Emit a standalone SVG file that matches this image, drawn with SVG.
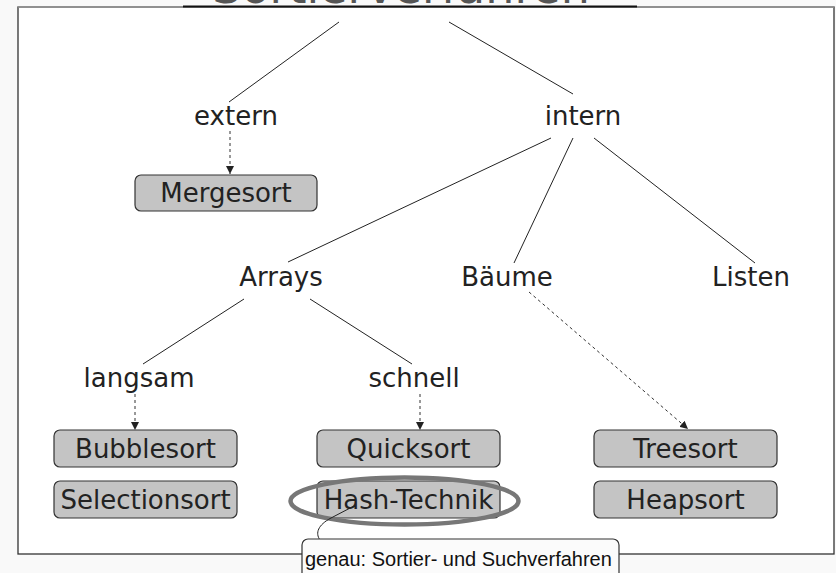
<svg xmlns="http://www.w3.org/2000/svg" width="836" height="573" viewBox="0 0 836 573">
  <defs>
    <style>
      .lbl { font-family: "DejaVu Sans", Verdana, sans-serif; font-size: 26px; fill: #222; text-anchor: middle; }
      .box { fill: #c4c4c4; stroke: #333; stroke-width: 1.2; }
      .edge { stroke: #222; stroke-width: 1; fill: none; }
      .dash { stroke: #333; stroke-width: 1; stroke-dasharray: 3 3; fill: none; marker-end: url(#arr); }
    </style>
    <marker id="arr" viewBox="0 0 8 8" refX="8" refY="4" markerWidth="8" markerHeight="8" markerUnits="userSpaceOnUse" orient="auto">
      <path d="M0,0 L8,4 L0,8 Z" fill="#222"/>
    </marker>
  </defs>

  <rect x="0" y="0" width="836" height="573" fill="#f9f9f9"/>
  <g id="frame">
    <rect x="18" y="7" width="816" height="547" fill="#ffffff" stroke="#333" stroke-width="1.3"/>
    <line x1="18" y1="7" x2="834" y2="7" stroke="#999" stroke-width="1.5"/>
    <line x1="183" y1="6.5" x2="637" y2="6.5" stroke="#111" stroke-width="2.2"/>
  </g>
  <g id="title">
    <text x="401" y="3" font-family="DejaVu Sans, sans-serif" font-size="46" fill="#555" text-anchor="middle">Sortierverfahren</text>
  </g>

  <g id="connectors">
    <line class="edge" x1="339" y1="22" x2="229" y2="102"/>
    <line class="edge" x1="449" y1="22" x2="573" y2="94"/>
    <line class="edge" x1="551" y1="138" x2="288" y2="262"/>
    <line class="edge" x1="573" y1="138" x2="514" y2="263"/>
    <line class="edge" x1="594" y1="138" x2="755" y2="263"/>
    <line class="edge" x1="244" y1="299" x2="143" y2="364"/>
    <line class="edge" x1="310" y1="299" x2="412" y2="364"/>
    <line class="dash" x1="230" y1="131" x2="230" y2="174"/>
    <line class="dash" x1="135" y1="394" x2="135" y2="430"/>
    <line class="dash" x1="420" y1="394" x2="420" y2="430"/>
    <line class="dash" x1="529" y1="292" x2="688" y2="429"/>
  </g>

  <g id="n-extern"><text class="lbl" x="236" y="125">extern</text></g>
  <g id="n-intern"><text class="lbl" x="583" y="125">intern</text></g>
  <g id="n-mergesort">
    <rect class="box" x="135" y="175" width="182" height="36" rx="6"/>
    <text class="lbl" x="226" y="202">Mergesort</text>
  </g>
  <g id="n-arrays"><text class="lbl" x="281" y="286">Arrays</text></g>
  <g id="n-baeume"><text class="lbl" x="507" y="286">Bäume</text></g>
  <g id="n-listen"><text class="lbl" x="751" y="286">Listen</text></g>
  <g id="n-langsam"><text class="lbl" x="139" y="387">langsam</text></g>
  <g id="n-schnell"><text class="lbl" x="414" y="387">schnell</text></g>
  <g id="n-bubblesort">
    <rect class="box" x="54" y="430" width="183" height="37" rx="6"/>
    <text class="lbl" x="145.5" y="458">Bubblesort</text>
  </g>
  <g id="n-selectionsort">
    <rect class="box" x="54" y="481" width="183" height="37" rx="6"/>
    <text class="lbl" x="145.5" y="509">Selectionsort</text>
  </g>
  <g id="n-quicksort">
    <rect class="box" x="317" y="430" width="183" height="37" rx="6"/>
    <text class="lbl" x="408.5" y="458">Quicksort</text>
  </g>
  <g id="n-hash">
    <rect class="box" x="317" y="481" width="183" height="37" rx="6"/>
    <text class="lbl" x="408.5" y="509">Hash-Technik</text>
  </g>
  <g id="n-treesort">
    <rect class="box" x="594" y="430" width="183" height="37" rx="6"/>
    <text class="lbl" x="685.5" y="458">Treesort</text>
  </g>
  <g id="n-heapsort">
    <rect class="box" x="594" y="481" width="183" height="37" rx="6"/>
    <text class="lbl" x="685.5" y="509">Heapsort</text>
  </g>

  <g id="highlight">
    <ellipse cx="404.5" cy="501" rx="114" ry="23.5" fill="none" stroke="#777" stroke-width="4.5"/>
  </g>

  <g id="callout">
    <path d="M354,506 L331,518 C318,525 315,533 320,540" fill="none" stroke="#222" stroke-width="1"/>
    <rect x="302" y="539" width="317" height="45" rx="6" fill="#fbfbfb" stroke="#333" stroke-width="1.2"/>
    <text x="305" y="566" font-family="Liberation Sans, Arial, sans-serif" font-size="20" fill="#111">genau: Sortier- und Suchverfahren</text>
  </g>
</svg>
